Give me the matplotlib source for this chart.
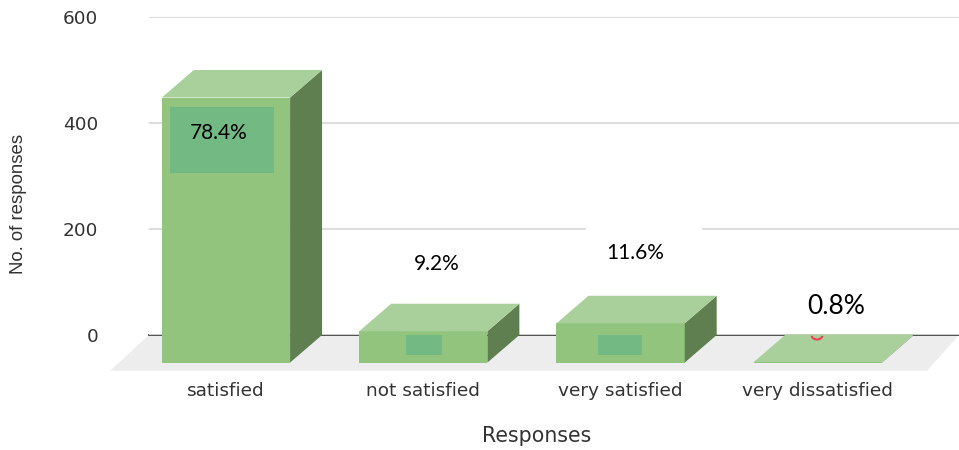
import matplotlib
matplotlib.use('Agg')
import matplotlib.pyplot as plt
from matplotlib.patches import Polygon, Rectangle, Arc
from matplotlib.transforms import Affine2D

categories = ['satisfied', 'not satisfied', 'very satisfied', 'very dissatisfied']
responses = [500, 59, 74, 1]
percent_labels = ['78.4%', '9.2%', '11.6%', '0.8%']
yticks = [0, 200, 400, 600]

W, H = 959, 450
fig = plt.figure(figsize=(W / 100, H / 100), dpi=100)
ax = fig.add_axes([149 / W, 1 - 335 / H, (W - 149) / W, (335 - 17) / H])

# 3d look of the bars, in data units
width = 0.65
depth_x = 0.162
depth_y = 52
front = '#93c47d'
top = '#a9d09a'
side = '#5f7f50'

ax.set_xlim(-0.39, 3.715)
ax.set_ylim(0, 600)
for s in ax.spines.values():
    s.set_visible(False)

# floor
ax.add_patch(Polygon([(-0.39, 0), (3.715, 0), (3.715 - depth_x, -depth_y * 1.3), (-0.39 - depth_x * 1.22, -depth_y * 1.3)],
                     closed=True, fc='#ededed', ec='none', clip_on=False, zorder=1))
ax.set_yticks(yticks)
ax.grid(axis='y', color='#d9d9d9', lw=1.3, zorder=0)
ax.axhline(0, color='#444444', lw=1.3, zorder=1.5, clip_on=False)

for i, v in enumerate(responses):
    x0 = i - width / 2
    x1 = i + width / 2
    front_top = v - depth_y
    ax.bar(i, v, width, bottom=-depth_y, color=front, zorder=3, clip_on=False)
    ax.add_patch(Polygon([(x1, -depth_y), (x1 + depth_x, 0), (x1 + depth_x, v), (x1, front_top)],
                         closed=True, fc=side, ec='none', zorder=3, clip_on=False))
    ax.add_patch(Polygon([(x0, front_top), (x1, front_top), (x1 + depth_x, v), (x0 + depth_x, v)],
                         closed=True, fc=top, ec='none', zorder=4, clip_on=False))

ax.set_xticks(range(len(categories)))
ax.set_xticklabels(categories, family='DejaVu Sans', fontsize=13.3, color='#333333')
ax.tick_params(axis='x', length=0, pad=33.5)
ax.tick_params(axis='y', length=0, pad=36.5, labelsize=13.3, labelcolor='#333333')
for t in ax.get_yticklabels():
    t.set_family('DejaVu Sans')

# pixel coordinates for the pasted-on boxes and labels
px = Affine2D().scale(1 / W, -1 / H).translate(0, 1) + fig.transFigure


def box(x, y, w, h, color):
    fig.add_artist(Rectangle((x, y), w, h, fc=color, ec='none', transform=px))


box(170, 107, 104, 66, '#72b983')
box(406, 335, 36, 20, '#72b983')
box(598, 335, 44, 20, '#72b983')
box(586, 226, 116, 8, 'white')
box(787, 322, 111, 12, 'white')
fig.add_artist(Arc((817, 335), 11, 9, theta1=10, theta2=170, color='#f04050', lw=1.5, transform=px))

pct_pos = [(219, 133, 15), (436.5, 264, 15), (635, 253, 15), (836, 306, 19)]
for lab, (x, y, size) in zip(percent_labels, pct_pos):
    fig.text(x, y, lab, transform=px, family='Lato', fontsize=size, color='black', ha='center', va='center')

fig.text(19, 204, 'No. of responses', transform=px, family='Liberation Sans', fontsize=13.4, color='#333333',
         rotation=90, ha='center', va='center')
fig.text(537, 436, 'Responses', transform=px, family='DejaVu Sans', fontsize=14.8, color='#333333',
         ha='center', va='center')

plt.savefig('out.png', dpi=100)
